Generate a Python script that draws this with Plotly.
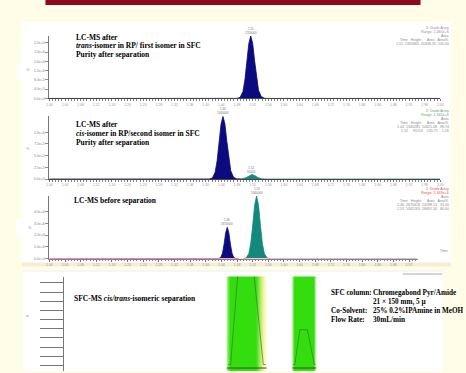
import plotly.graph_objects as go

W, H = 466, 373

# ---------------- data ----------------
# LC-MS after separation: trans-isomer (panel 1)
p1_time = [1.000, 1.470, 1.480, 1.488, 1.495, 1.500, 1.505, 1.510, 1.515, 1.520, 1.525,
           1.530, 1.535, 1.542, 1.550, 1.560, 2.000]
p1_signal = [0, 0, 3e3, 4.9e4, 2.94e5, 7.8e5, 1.55e6, 2.35e6, 2.70e6, 2.38e6, 1.62e6,
             8.4e5, 3.5e5, 8.0e4, 1.0e4, 0, 0]

# LC-MS after separation: cis-isomer (panel 2) - main peak and small impurity peak
p2a_time = [1.000, 1.399, 1.409, 1.417, 1.424, 1.429, 1.434, 1.439, 1.444, 1.449, 1.454,
            1.459, 1.464, 1.471, 1.479, 1.489]
p2a_signal = [0, 0, 1.5e3, 2.4e4, 1.46e5, 3.86e5, 7.7e5, 1.17e6, 1.34e6, 1.18e6, 8.0e5,
              4.2e5, 1.75e5, 4.0e4, 5e3, 0]
p2b_time = [1.483, 1.493, 1.503, 1.510, 1.518, 1.526, 1.533, 1.543, 1.553, 2.000]
p2b_signal = [0, 5e3, 3.0e4, 6.9e4, 9.5e4, 7.0e4, 3.2e4, 6e3, 0, 0]

# LC-MS before separation (panel 3)
p3a_time = [1.000, 1.425, 1.434, 1.439, 1.443, 1.447, 1.451, 1.455, 1.459, 1.463, 1.467,
            1.471, 1.476, 1.485]
p3a_signal = [0, 0, 1.3e4, 1.28e5, 4.86e5, 1.25e6, 2.21e6, 2.67e6, 2.21e6, 1.25e6, 4.86e5,
              1.28e5, 1.3e4, 0]
p3b_time = [1.495, 1.503, 1.510, 1.515, 1.520, 1.525, 1.530, 1.535, 1.540, 1.545, 1.550,
            1.557, 1.565, 1.940]
p3b_signal = [0, 4.8e4, 4.06e5, 1.25e6, 2.80e6, 4.54e6, 5.34e6, 4.54e6, 2.80e6, 1.25e6,
              4.06e5, 4.8e4, 0, 0]

# y tick values
p1_yticks = [0, 4e5, 8e5, 1.2e6, 1.6e6, 2.0e6, 2.4e6]
p2_yticks = [0, 2.5e5, 5e5, 7.5e5, 1.0e6]
p3_yticks = [0, 1e6, 2e6, 3e6, 4e6]

# SFC-MS preparative trace (inside the collected fractions) and fraction windows
sfc_time = [2.60, 2.64, 2.78, 2.98, 3.16, 3.20, None, 3.63, 3.66, 3.74, 3.86, 3.97, 3.99]
sfc_signal = [0.1, 0.1, 12, 12, 0.1, 0.1, None, 0.1, 0.1, 3.9, 3.9, 0.1, 0.1]
frac_start = [2.58, 3.62]
frac_end = [3.21, 4.00]

# texts
p1_title = ["LC-MS after", "<i>trans</i>-isomer in RP/ first isomer in SFC", "Purity after separation"]
p2_title = ["LC-MS after", "<i>cis</i>-isomer in RP/second isomer in SFC", "Purity after separation"]
p3_title = ["LC-MS before separation"]
p4_title = ["SFC-MS <i>cis/trans</i>-isomeric separation"]
sfc_cond_labels = ["SFC column:", "", "Co-Solvent:", "Flow Rate:"]
sfc_cond_values = ["Chromegabond Pyr/Amide", "21 × 150 mm, 5 µ", "25% 0.2%IPAmine in MeOH", "30mL/min"]

p1_info = ["3: Diode Array", "Range: 2.465e+6", "Area", "Time   Height      Area   Area%",
           "1.51  2465865  20436.35  100.00"]
p2_info = ["2: Diode Array", "Range: 1.341e+6", "Area", "Time   Height      Area   Area%",
           "1.44  1340285  10625.08   98.74", "1.52     95113    135.71    1.26"]
p3_info = ["2: Diode Array", "Range: 5.343e+6", "Area", "Time   Height      Area   Area%",
           "1.46  2670418  14288.13   33.40", "1.53  5342163  28491.50   66.60"]

# ---------------- helpers ----------------
def px(x):
    return x / W

def py(y):
    return 1 - y / H

NAVY = "#0b0b7e"
TEAL = "#12897c"
serif = "Liberation Serif"

fig = go.Figure()

def peak(t, s, color, xa, ya):
    fig.add_trace(go.Scatter(x=t, y=s, mode="lines", fill="tozeroy", fillcolor=color,
                             line=dict(color=color, width=0.8), xaxis=xa, yaxis=ya,
                             hoverinfo="skip", showlegend=False))

peak(p1_time, p1_signal, NAVY, "x", "y")
peak(p2a_time, p2a_signal, NAVY, "x2", "y2")
peak(p2b_time, p2b_signal, TEAL, "x2", "y2")
peak(p3a_time, p3a_signal, NAVY, "x3", "y3")
peak(p3b_time, p3b_signal, TEAL, "x3", "y3")

fig.add_trace(go.Scatter(x=sfc_time, y=sfc_signal, mode="lines", connectgaps=False,
                         line=dict(color="#3c7a2c", width=0.7), xaxis="x4", yaxis="y4",
                         hoverinfo="skip", showlegend=False))

# ---------------- axes ----------------
def xax(dom, rng, anchor, linecolor="#444"):
    return dict(domain=dom, range=rng, anchor=anchor, showline=True, linecolor=linecolor,
                linewidth=1, ticks="outside", ticklen=2, tickcolor="#555", tickwidth=0.8,
                dtick=0.04, tick0=1.0, tickformat=".2f",
                tickfont=dict(size=3.5, color="#999", family="Arial"),
                showgrid=False, zeroline=False,
                minor=dict(dtick=0.008, ticks="outside", ticklen=1.5, tickcolor="#666"))

def yax(dom, rng, anchor, vals):
    return dict(domain=dom, range=rng, anchor=anchor, showline=True, linecolor="#777",
                linewidth=1, ticks="outside", ticklen=3, tickcolor="#777", tickwidth=0.8,
                tickvals=vals, tickformat=".1e",
                tickfont=dict(size=3.5, color="#888", family="Arial"),
                showgrid=False, zeroline=False)

layout = dict(
    width=W, height=H, autosize=False,
    margin=dict(l=0, r=0, t=0, b=0, pad=0),
    paper_bgcolor="#fffde7", plot_bgcolor="rgba(0,0,0,0)",
    showlegend=False,
    xaxis=xax([px(47), px(443)], [1.0, 2.0], "y"),
    yaxis=yax([py(99), py(36)], [0, max(p1_signal)], "x", p1_yticks),
    xaxis2=xax([px(47), px(443)], [1.0, 2.0], "y2"),
    yaxis2=yax([py(180), py(117)], [0, max(p2a_signal)], "x2", p2_yticks),
    xaxis3=xax([px(47), px(420)], [1.0, 1.0 + 373 / 396], "y3", linecolor="#c8607a"),
    yaxis3=yax([py(260), py(197)], [0, max(p3b_signal)], "x3", p3_yticks),
    xaxis4=dict(domain=[px(62), px(445)], range=[0, 6], anchor="y4", visible=False),
    yaxis4=dict(domain=[0, py(278)], range=[-0.6, 9.7], anchor="x4", showline=True,
                linecolor="#777", linewidth=1, ticks="outside", ticklen=23, tickcolor="#777",
                tickwidth=1, dtick=1, tick0=0, showticklabels=False, showgrid=False,
                zeroline=False),
)

shapes = []
# banner
shapes.append(dict(type="rect", xref="paper", yref="paper", x0=px(43), x1=px(423),
                   y0=py(5), y1=py(0), fillcolor="#8b0a22", line=dict(width=0), layer="below"))
# white panels
shapes.append(dict(type="rect", xref="paper", yref="paper", x0=px(19), x1=px(454),
                   y0=py(268), y1=py(22), fillcolor="white", line=dict(width=0), layer="below"))
shapes.append(dict(type="rect", xref="paper", yref="paper", x0=px(19), x1=px(454),
                   y0=py(268), y1=py(264), fillcolor="#f4eed6", line=dict(width=0), layer="below"))
shapes.append(dict(type="rect", xref="paper", yref="paper", x0=px(14), x1=px(20),
                   y0=py(80), y1=py(64), fillcolor="white", line=dict(width=0), layer="below"))
shapes.append(dict(type="rect", xref="paper", yref="paper", x0=px(13), x1=px(20),
                   y0=py(238), y1=py(220), fillcolor="white", line=dict(width=0), layer="below"))
shapes.append(dict(type="rect", xref="paper", yref="paper", x0=px(20), x1=px(445),
                   y0=0, y1=py(272), fillcolor="white", line=dict(width=0), layer="below"))
# gray tag at top-right of SFC panel
shapes.append(dict(type="line", xref="paper", yref="paper", x0=px(405), x1=px(445),
                   y0=py(275.5), y1=py(275.5), line=dict(color="#aaa", width=1.2), layer="below"))
shapes.append(dict(type="line", xref="paper", yref="paper", x0=px(20), x1=px(445),
                   y0=py(272.5), y1=py(272.5), line=dict(color="#eee", width=1), layer="below"))

# fraction bands (green, fading at edges)
def lerp(c1, c2, f):
    return "rgb(%d,%d,%d)" % tuple(int(round(a + (b - a) * f)) for a, b in zip(c1, c2))

GREEN = (52, 221, 14)
PALEG = (190, 245, 160)
YELL = (245, 240, 120)
fade_right = [True, False]
for s, e, fr in zip(frac_start, frac_end, fade_right):
    span = e - s
    edge = span * 0.06
    n = 4
    for i in range(n):
        a = s + edge * i / n
        b = s + edge * (i + 1) / n
        shapes.append(dict(type="rect", xref="x4", yref="paper", x0=a, x1=b, y0=0, y1=py(278),
                           fillcolor=lerp(PALEG, GREEN, (i + 1) / n), line=dict(width=0), layer="below"))
    if fr:
        core_end = e - span * 0.24
        shapes.append(dict(type="rect", xref="x4", yref="paper", x0=s + edge, x1=core_end,
                           y0=0, y1=py(278), fillcolor=lerp(GREEN, GREEN, 0), line=dict(width=0), layer="below"))
        m = 10
        for i in range(m):
            a = core_end + (e - core_end) * i / m
            b = core_end + (e - core_end) * (i + 1) / m
            f = (i + 0.5) / m
            col = lerp(GREEN, YELL, min(1, f * 1.4)) if f < 0.7 else lerp(YELL, (252, 250, 215), (f - 0.7) / 0.3)
            shapes.append(dict(type="rect", xref="x4", yref="paper", x0=a, x1=b, y0=0, y1=py(278),
                               fillcolor=col, line=dict(width=0), layer="below"))
    else:
        shapes.append(dict(type="rect", xref="x4", yref="paper", x0=s + edge, x1=e - edge,
                           y0=0, y1=py(278), fillcolor=lerp(GREEN, GREEN, 0), line=dict(width=0), layer="below"))
        for i in range(n):
            a = e - edge + edge * i / n
            b = e - edge + edge * (i + 1) / n
            shapes.append(dict(type="rect", xref="x4", yref="paper", x0=a, x1=b, y0=0, y1=py(278),
                               fillcolor=lerp(GREEN, PALEG, (i + 1) / n), line=dict(width=0), layer="below"))
    shapes.append(dict(type="line", xref="x4", yref="paper", x0=s, x1=e, y0=py(370), y1=py(370),
                       line=dict(color="#2a5a1a", width=1)))

layout["shapes"] = shapes

ann = []

def txt(x, y, t, size=7.5, color="black", anchor="left", bold=True, fam=serif):
    ann.append(dict(xref="paper", yref="paper", x=px(x), y=py(y), text=("<b>%s</b>" % t) if bold else t,
                    showarrow=False, xanchor=anchor, yanchor="middle", borderpad=0,
                    font=dict(size=size, color=color, family=fam)))

for i, t in enumerate(p1_title):
    txt(73, 37.5 + 8.6 * i, t)
for i, t in enumerate(p2_title):
    txt(73, 125 + 9.1 * i, t)
for t in p3_title:
    txt(71, 201.5, t)
for t in p4_title:
    txt(71, 300, t)
for i, (lab, val) in enumerate(zip(sfc_cond_labels, sfc_cond_values)):
    yy = 295 + 9 * i
    if lab:
        txt(331, yy, lab, size=7.2)
    txt(374, yy, val, size=7.2)

# small instrument info blocks
def info(lines, y0, top_color, n_top=2):
    for i, l in enumerate(lines):
        c = top_color if i < n_top else "#8a8a8a"
        txt(453, y0 + 4 * i, l, size=3.6, color=c, anchor="right", bold=False, fam="Arial")

info(p1_info, 28.5, "#9a8ab0")
info(p2_info, 111.5, "#6aa86a")
info(p3_info, 190.5, "#d05a5a")

# axis small labels
txt(22.5, 70, "%", size=4, color="#999", bold=False, fam="Arial")
txt(22.5, 149, "%", size=4, color="#999", bold=False, fam="Arial")
txt(24.5, 229, "%", size=4, color="#999", bold=False, fam="Arial")
txt(22.5, 318, "=", size=5, color="#aaa", bold=False, fam="Arial")
txt(452, 252, "Time", size=3.6, color="#888", anchor="right", bold=False, fam="Arial")

# peak labels derived from the data
def peak_label(t, s, xa, ya):
    i = s.index(max(s))
    ann.append(dict(xref=xa, yref=ya, x=t[i], y=s[i], yshift=0,
                    text="%.2f<br>%d" % (t[i], s[i]), showarrow=False,
                    xanchor="center", yanchor="bottom", borderpad=0,
                    font=dict(size=3.0, color="#777", family="Arial")))

peak_label(p1_time, p1_signal, "x", "y")
peak_label(p2a_time, p2a_signal, "x2", "y2")
peak_label(p2b_time, p2b_signal, "x2", "y2")
peak_label(p3a_time, p3a_signal, "x3", "y3")
peak_label(p3b_time, p3b_signal, "x3", "y3")

layout["annotations"] = ann
fig.update_layout(**layout)
fig.write_html(
    "out.html",
    config={"displayModeBar": False, "staticPlot": True},
    post_script="document.body.style.margin='0px';document.body.style.padding='0px';"
                "document.documentElement.style.overflow='hidden';document.body.style.overflow='hidden';",
)
